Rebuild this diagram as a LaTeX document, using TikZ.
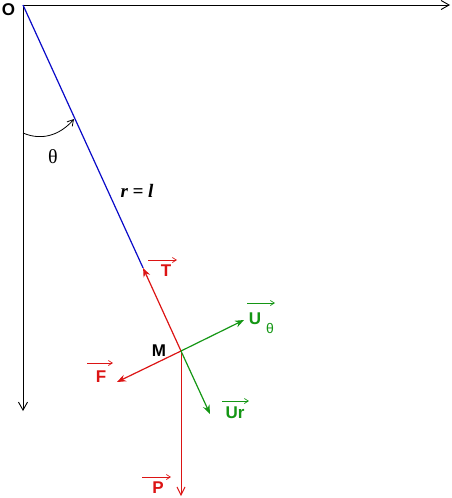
\documentclass[tikz,border=0pt]{standalone}
\usepackage{fontspec}
\setmainfont{Liberation Sans}
\newfontfamily\serifit{Liberation Serif}
\usetikzlibrary{arrows.meta,calc}
\definecolor{fred}{RGB}{220,20,20}
\definecolor{fgreen}{RGB}{20,150,20}
\definecolor{fblue}{RGB}{10,10,200}
\tikzset{
  axisline/.style={line width=0.9pt,-{Straight Barb[length=8pt,width=9pt,line width=0.9pt]}},
  force/.style={line width=1.2pt,-{Stealth[length=9pt,width=7pt]}},
  overarr/.style={line width=0.8pt,-{Straight Barb[length=4pt,width=5pt,line width=0.7pt]}},
  lab/.style={inner sep=0pt,font=\fontsize{17}{19}\selectfont\bfseries},
}
\begin{document}
\begin{tikzpicture}[x=1pt,y=1pt]
\useasboundingbox (0,0) rectangle (452,-498);
\coordinate (O) at (23,-5);
\coordinate (M) at (181,-351);
\coordinate (X) at (450,-5);
\coordinate (Y) at (23,-411);
\coordinate (Tt) at ($(O)!0.76!(M)$);
\coordinate (Ut) at (244,-320);
\coordinate (Ft) at (117,-382);
\coordinate (Rt) at (210,-414);
\coordinate (Pt) at (181,-496);
\coordinate (A0) at (23,-133);
\coordinate (A1) at (74,-119);
% axes
\draw[axisline] (O) -- (X);
\draw[axisline] (O) -- (Y);
% pendulum
\draw[fblue,line width=1.2pt] (O) -- (Tt);
% angle arc
\draw[line width=0.8pt,-{Straight Barb[length=6pt,width=7pt,line width=0.8pt]}] (A0) .. controls (44,-142) and (62,-133) .. (A1);
% forces
\draw[force,fred] (M) -- (Tt);
\draw[force,fred] (M) -- (Ft);
\draw[fred,line width=1pt,-{Straight Barb[length=8pt,width=8pt,line width=1pt]}] (M) -- (Pt);
\draw[force,fgreen] (M) -- (Ut);
\draw[force,fgreen] (M) -- (Rt);
% labels
\node[lab] (lO) at (8.5,-10) {O};
\node[lab] (lM) at (159,-351) {M};
\node[inner sep=0pt,font=\serifit\fontsize{20}{22}\selectfont] (lth) at (53,-157) {θ};
\node[inner sep=0pt,font=\serifit\fontsize{19}{21}\selectfont\bfseries\itshape] (lr) at (137,-191) {r = l};
\node[lab,fred] (lT) at (166,-271) {T};
\node[lab,fred] (lF) at (101,-377) {F};
\node[lab,fred] (lP) at (158,-488) {P};
\node[lab,fgreen] (lU) at (255,-319) {U};
\node[inner sep=0pt,fgreen,font=\fontsize{14}{15}\selectfont] (lUs) at (270,-328) {θ};
\node[lab,fgreen] (lR) at (235,-413) {Ur};
% over arrows
\draw[overarr,fred] ($(lT)+(-18,11)$) -- ($(lT)+(11,11)$);
\draw[overarr,fred] ($(lF)+(-14,14)$) -- ($(lF)+(12,14)$);
\draw[overarr,fred] ($(lP)+(-16,11)$) -- ($(lP)+(13,11)$);
\draw[overarr,fgreen] ($(lU)+(-8,16)$) -- ($(lU)+(20,16)$);
\draw[overarr,fgreen] ($(lR)+(-13,12)$) -- ($(lR)+(14,12)$);
\end{tikzpicture}
\end{document}
